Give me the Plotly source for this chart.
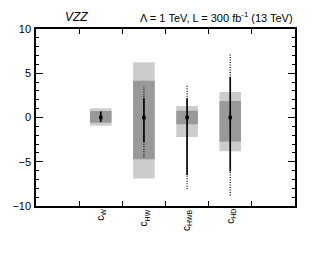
import plotly.graph_objects as go

labels = ["c<sub>W</sub>", "c<sub>HW</sub>", "c<sub>HWB</sub>", "c<sub>HD</sub>"]
xpos = [1.5, 2.5, 3.5, 4.5]
central = [0, 0, 0, 0]
light_lo = [-0.93, -6.9, -2.2, -3.8]
light_hi = [1.04, 6.24, 1.3, 2.88]
dark_lo = [-0.59, -4.72, -0.77, -2.73]
dark_hi = [0.73, 4.16, 0.77, 1.86]
solid_lo = [-0.5, -2.8, -6.5, -6.1]
solid_hi = [0.66, 2.17, 2.17, 4.6]
dot_lo = [-0.5, -4.5, -8.1, -8.8]
dot_hi = [0.66, 3.48, 3.6, 7.3]

fig = go.Figure()
fig.add_trace(go.Bar(x=xpos, base=light_lo, y=[h - l for h, l in zip(light_hi, light_lo)],
                     width=0.5, marker=dict(color="#cccccc", line=dict(width=0)), showlegend=False))
fig.add_trace(go.Bar(x=xpos, base=dark_lo, y=[h - l for h, l in zip(dark_hi, dark_lo)],
                     width=0.5, marker=dict(color="#999999", line=dict(width=0)), showlegend=False))

def seg(lo, hi):
    xs, ys = [], []
    for x, l, h in zip(xpos, lo, hi):
        xs += [x, x, None]
        ys += [l, h, None]
    return xs, ys

xs, ys = seg(dot_lo, dot_hi)
fig.add_trace(go.Scatter(x=xs, y=ys, mode="lines", line=dict(color="black", width=1.2, dash="1px,1.5px"),
                         showlegend=False))
xs, ys = seg(solid_lo, solid_hi)
fig.add_trace(go.Scatter(x=xs, y=ys, mode="lines", line=dict(color="black", width=1.6),
                         showlegend=False))
fig.add_trace(go.Scatter(x=xpos, y=central, mode="markers",
                         marker=dict(color="black", size=3.5, symbol="square"), showlegend=False))

for x, lab in zip(xpos, labels):
    fig.add_annotation(x=x, y=-10, xref="x", yref="y", text=lab, textangle=-90, showarrow=False,
                       xanchor="center", yanchor="top", yshift=-1,
                       font=dict(size=10, color="black", family="Liberation Sans"))

fig.add_annotation(xref="x domain", yref="y domain", x=(63 - 36) / 259, y=1 + 12 / 177,
                   text="<i>VZZ</i>", showarrow=False,
                   font=dict(size=12, color="black"), xanchor="left", yanchor="middle")
fig.add_annotation(xref="x domain", yref="y domain", x=1, y=1 + 12 / 177,
                   text="Λ = 1 TeV, L = 300 fb<sup>-1</sup> (13 TeV)", showarrow=False,
                   font=dict(size=11, color="black"), xanchor="right", yanchor="middle")

fig.update_layout(
    width=332, height=257, margin=dict(l=28, r=45, t=21, b=59, autoexpand=False),
    plot_bgcolor="white", paper_bgcolor="white", barmode="overlay",
    font=dict(family="Liberation Sans", color="black", size=11),
    xaxis=dict(range=[0, 6], tickvals=[1, 2, 3, 4, 5], showticklabels=False,
               ticks="inside", ticklen=5, tickcolor="black", tickwidth=0.7,
               showline=True, linecolor="black", linewidth=1.5, mirror="ticks",
               showgrid=False, zeroline=False, fixedrange=True, automargin=False),
    yaxis=dict(range=[-10, 10], tickvals=[-10, -5, 0, 5, 10],
               ticktext=["\u221210", "\u22125", "0", "5", "10"],
               ticks="inside", ticklen=7, tickcolor="black", tickwidth=0.7, ticklabelstandoff=1,
               minor=dict(dtick=1, ticks="inside", ticklen=3.5, tickcolor="black", tickwidth=0.7, showgrid=False),
               showline=True, linecolor="black", linewidth=1.5, mirror="ticks",
               showgrid=False, zeroline=False, tickfont=dict(size=11), fixedrange=True, automargin=False),
)
fig.write_html("out.html")
